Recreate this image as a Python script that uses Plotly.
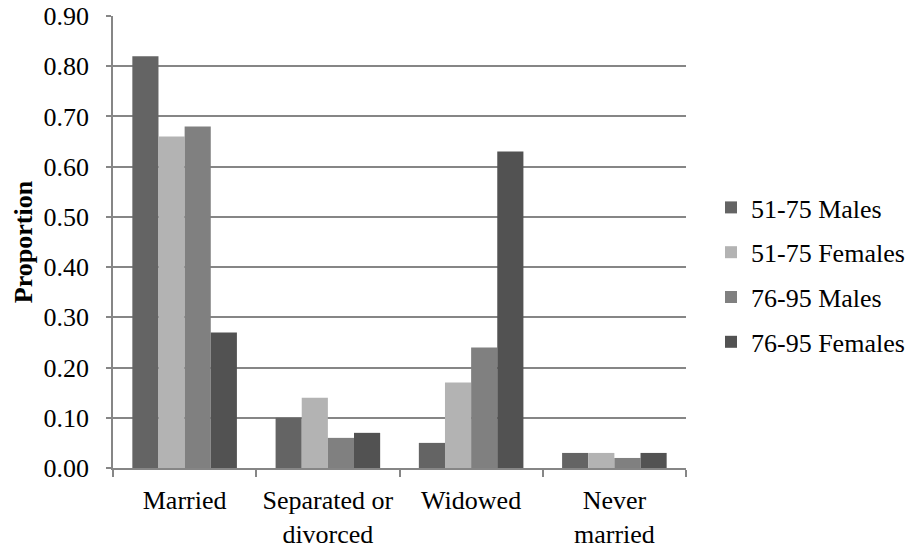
import plotly.graph_objects as go

categories = ["Married", "Separated or<br>divorced", "Widowed", "Never<br>married"]
series_names = ["51-75 Males", "51-75 Females", "76-95 Males", "76-95 Females"]
males_51_75 = [0.82, 0.10, 0.05, 0.03]
females_51_75 = [0.66, 0.14, 0.17, 0.03]
males_76_95 = [0.68, 0.06, 0.24, 0.02]
females_76_95 = [0.27, 0.07, 0.63, 0.03]
y_ticks = [0.0, 0.1, 0.2, 0.3, 0.4, 0.5, 0.6, 0.7, 0.8, 0.9]

series_values = [males_51_75, females_51_75, males_76_95, females_76_95]
colors = ["#646464", "#b3b3b3", "#808080", "#525252"]

FONT = "Liberation Serif, Times New Roman, serif"
FS = 26

fig = go.Figure()
for i, (name, vals, col) in enumerate(zip(series_names, series_values, colors)):
    fig.add_trace(go.Bar(x=categories, y=vals,
                         name=name,
                         marker=dict(color=col, line=dict(width=0)),
                         legendgroup=f"g{i}"))

W, H = 908, 550
ML, MR, MT, MB = 113, 222, 16, 82

fig.update_layout(
    width=W, height=H,
    margin=dict(l=ML, r=MR, t=MT, b=MB, autoexpand=False),
    paper_bgcolor="white", plot_bgcolor="white",
    font=dict(family=FONT, size=FS, color="black"),
    barmode="group", bargap=0.27, bargroupgap=0,
    legend=dict(xanchor="left", yanchor="middle",
                font=dict(family=FONT, size=FS, color="black"), tracegroupgap=8,
                itemwidth=30, borderwidth=0, bgcolor="rgba(0,0,0,0)"),
    xaxis=dict(type="category", showgrid=False, showline=True, linecolor="#868686", linewidth=1.5,
               ticks="outside", tickson="boundaries", ticklen=7, tickcolor="#868686", tickwidth=1.5,
               automargin=False, ticklabelstandoff=8,
               tickfont=dict(family=FONT, size=FS, color="black")),
    yaxis=dict(range=[0, 0.9], tickvals=y_ticks, tickformat=".2f", showgrid=True,
               gridcolor="#868686", gridwidth=1.5, showline=True, linecolor="#868686", linewidth=1.5,
               ticks="outside", ticklen=5, tickcolor="#868686", tickwidth=1.5, zeroline=False,
               automargin=False, ticklabelstandoff=12,
               tickfont=dict(family=FONT, size=FS, color="black"),
               title=dict(text="<b>Proportion</b>", font=dict(family=FONT, size=FS, color="black"), standoff=3)),
)
plot_w = W - ML - MR
plot_h = H - MT - MB
fig.update_layout(legend=dict(x=(711 - ML) / plot_w, y=(H - MB - 275) / plot_h))

fig.write_html("out.html", config={"displayModeBar": False},
               post_script="document.body.style.margin='0';document.body.style.padding='0';")
